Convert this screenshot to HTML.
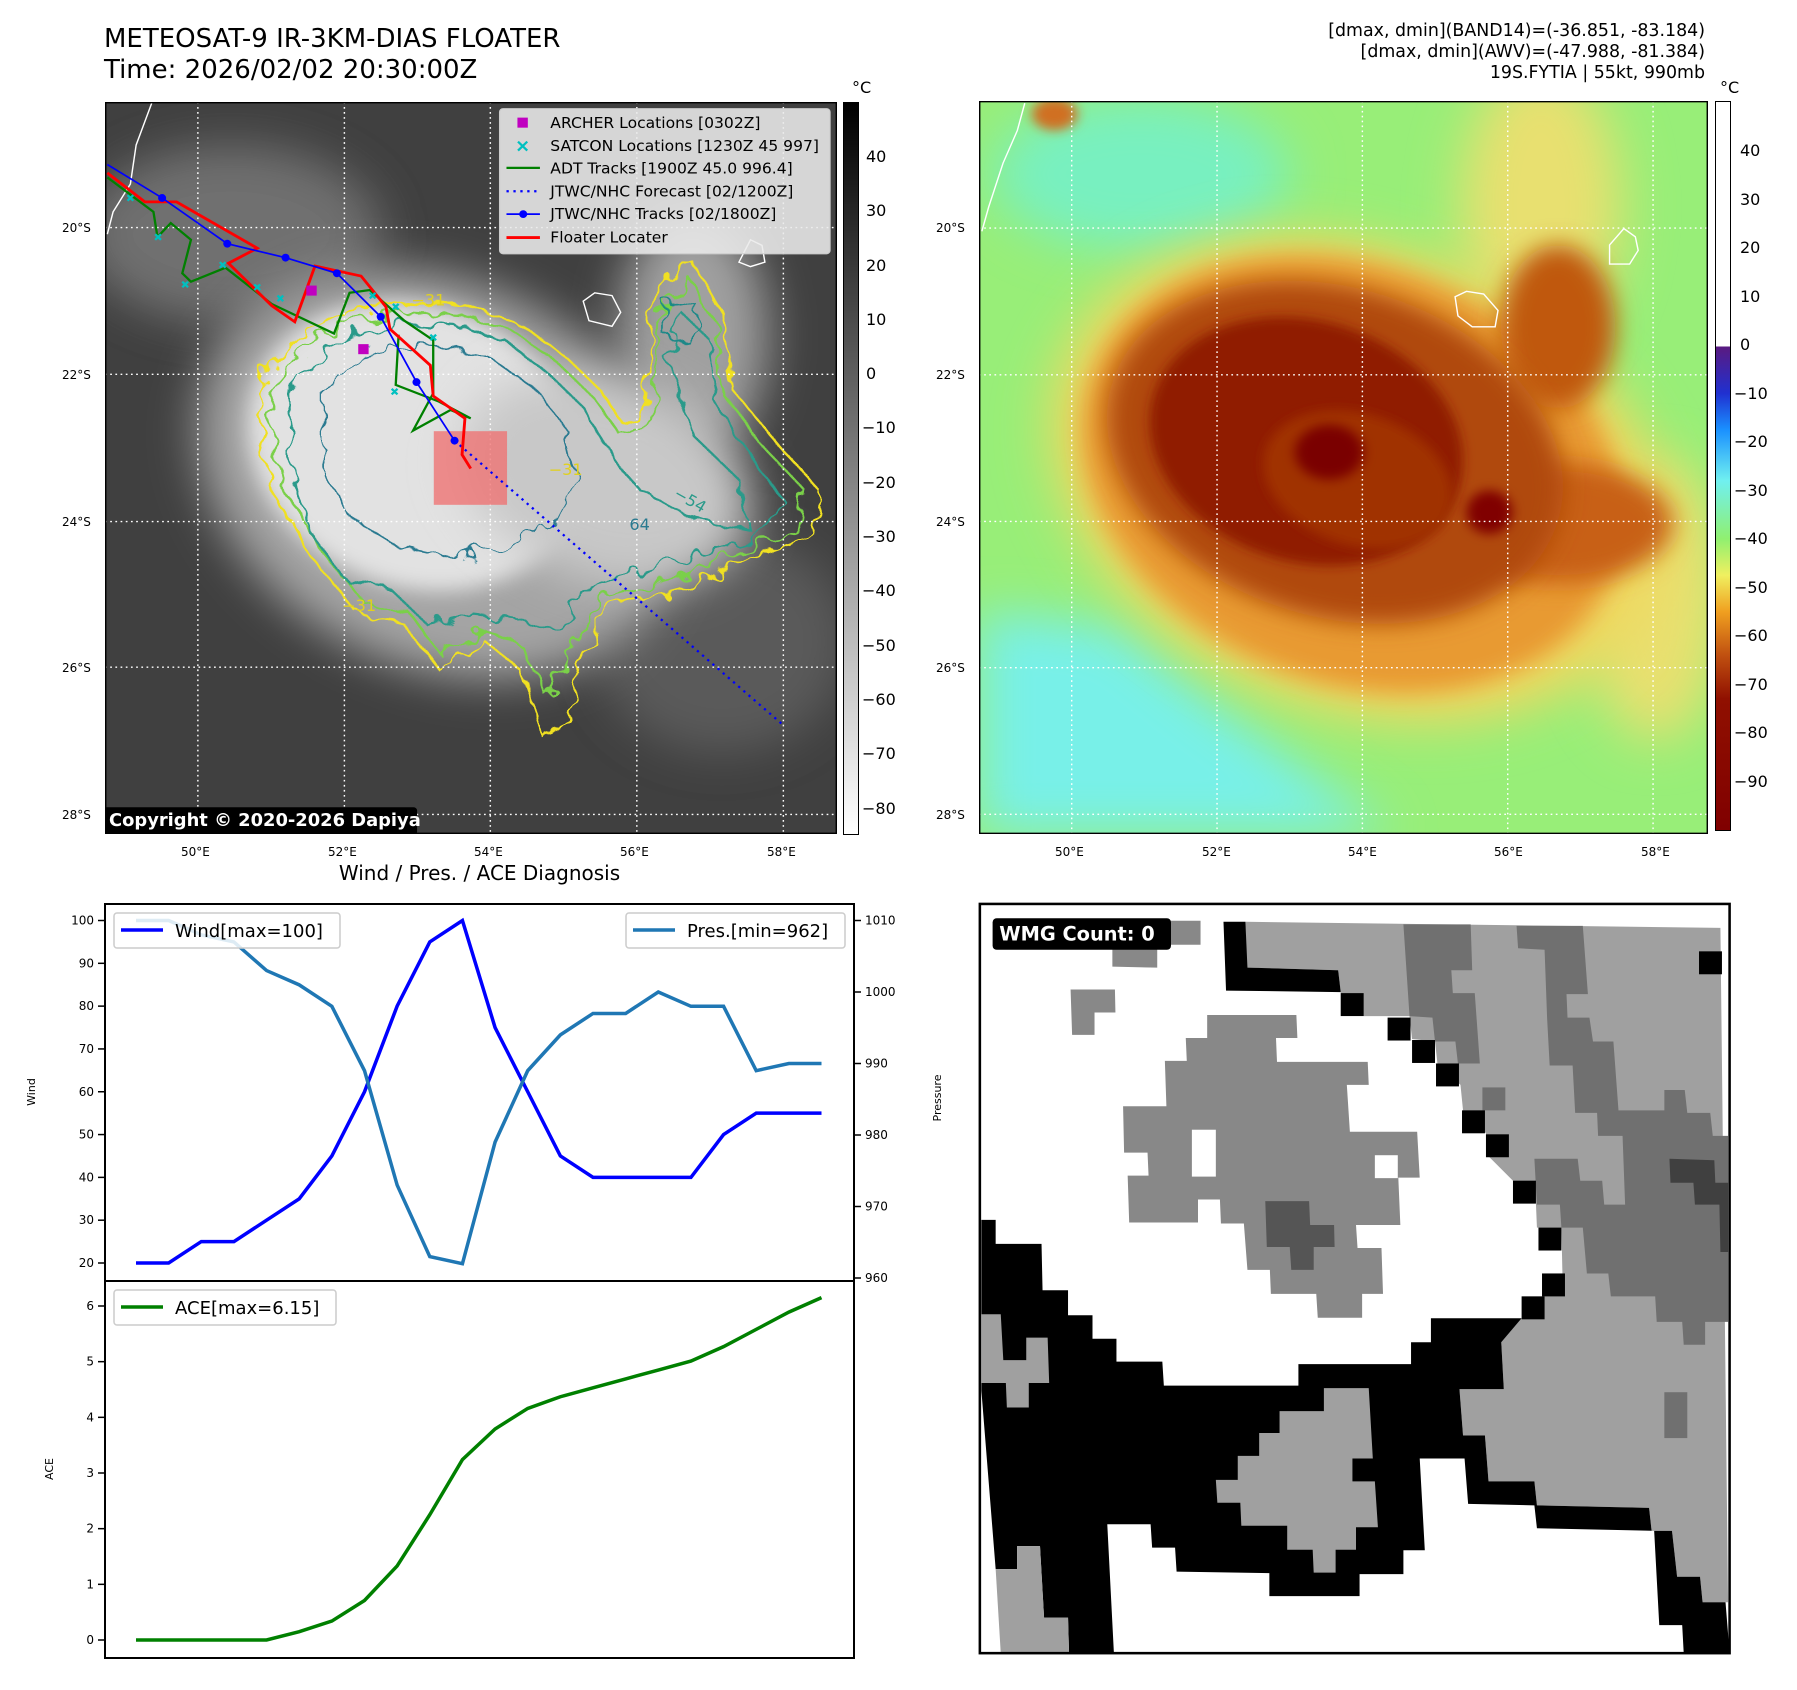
<!DOCTYPE html>
<html><head><meta charset="utf-8">
<style>
html,body{margin:0;padding:0;background:#fff;}
body{width:1797px;height:1690px;position:relative;overflow:hidden;font-family:"Liberation Sans","DejaVu Sans",sans-serif;}
.abs{position:absolute;}
svg text{font-family:"DejaVu Sans","Liberation Sans",sans-serif;}
</style></head>
<body>
<div class="abs" style="left:104px;top:24px;font-family:'DejaVu Sans',sans-serif;font-size:26px;line-height:31px;color:#000;">METEOSAT-9 IR-3KM-DIAS FLOATER<br>Time: 2026/02/02 20:30:00Z</div>
<div class="abs" style="right:92px;top:21px;text-align:right;font-family:'DejaVu Sans',sans-serif;font-size:17.4px;line-height:21px;color:#000;">[dmax, dmin](BAND14)=(-36.851, -83.184)<br>[dmax, dmin](AWV)=(-47.988, -81.384)<br>19S.FYTIA | 55kt, 990mb</div>

<!-- LEFT IR MAP -->
<svg class="abs" style="left:105px;top:102px" width="732" height="732" viewBox="181 183 1269 1312" preserveAspectRatio="none">
<defs>
<filter id="bl1" x="-50%" y="-50%" width="200%" height="200%"><feGaussianBlur stdDeviation="40"/></filter>
<filter id="bl2" x="-50%" y="-50%" width="200%" height="200%"><feGaussianBlur stdDeviation="18"/></filter>
<filter id="wob" x="-10%" y="-10%" width="120%" height="120%"><feTurbulence type="fractalNoise" baseFrequency="0.03" numOctaves="2" seed="3"/><feDisplacementMap in="SourceGraphic" scale="40"/></filter>
</defs>
<rect x="181" y="183" width="1269" height="1312" fill="#404040"/>
<ellipse cx="400" cy="420" rx="260" ry="160" fill="#707070" filter="url(#bl1)"/>
<ellipse cx="1250" cy="1150" rx="220" ry="200" fill="#5a5a5a" filter="url(#bl1)"/>
<ellipse cx="1200" cy="600" rx="130" ry="220" fill="#a0a0a0" filter="url(#bl1)"/>
<ellipse cx="760" cy="850" rx="440" ry="340" transform="rotate(30 760 850)" fill="#a4a4a4" filter="url(#bl1)"/>
<ellipse cx="720" cy="800" rx="300" ry="250" transform="rotate(25 720 800)" fill="#e2e2e2" filter="url(#bl2)"/>
<ellipse cx="1050" cy="860" rx="260" ry="180" transform="rotate(20 1050 860)" fill="#c8c8c8" filter="url(#bl1)"/>
<g fill="none" stroke-width="4" filter="url(#wob)">
<path stroke="#f0e020" d="M450,680 L520,600 L600,560 L700,540 L800,545 L900,580 L980,640 L1040,700 L1080,760 L1120,740 L1130,540 L1200,470 L1250,560 L1270,700 L1350,800 L1420,880 L1410,960 L1300,1000 L1200,1050 L1050,1090 L1000,1200 L980,1300 L940,1320 L900,1200 L840,1150 L760,1200 L700,1120 L620,1100 L540,1000 L470,880 L450,780 Z"/>
<path stroke="#7ad048" d="M470,690 L535,615 L610,575 L700,560 L800,565 L895,598 L970,655 L1030,715 L1075,780 L1135,760 L1140,560 L1195,500 L1240,580 L1255,710 L1330,810 L1395,880 L1385,945 L1290,985 L1190,1030 L1040,1070 L985,1170 L950,1250 L905,1160 L840,1130 L760,1170 L710,1100 L630,1080 L555,985 L490,875 L470,780 Z"/>
<path stroke="#2a9a8a" d="M500,700 L560,630 L630,595 L710,580 L800,585 L880,615 L950,670 L1010,730 L1060,820 L1110,880 L1200,930 L1300,950 L1280,860 L1200,780 L1160,650 L1180,560 L1230,610 L1240,720 L1300,820 L1360,900 L1300,970 L1150,1010 L1020,1050 L960,1130 L900,1110 L820,1100 L740,1120 L680,1060 L600,1040 L540,960 L505,860 Z"/>
<path stroke="#2a7a90" stroke-width="3" d="M560,700 L620,640 L700,620 L780,625 L860,650 L930,700 L980,770 L1000,860 L960,940 L880,980 L780,1000 L690,980 L610,930 L560,850 Z"/>
<path stroke="#1e8888" stroke-width="3" d="M1150,540 L1210,550 L1200,620 L1150,600 Z"/>
</g>
<g stroke="#fff" stroke-width="2.5" stroke-dasharray="3,6">
<line x1="342" y1="183" x2="342" y2="1495"/><line x1="596" y1="183" x2="596" y2="1495"/><line x1="849" y1="183" x2="849" y2="1495"/><line x1="1103" y1="183" x2="1103" y2="1495"/><line x1="1357" y1="183" x2="1357" y2="1495"/>
<line x1="181" y1="408" x2="1450" y2="408"/><line x1="181" y1="671" x2="1450" y2="671"/><line x1="181" y1="935" x2="1450" y2="935"/><line x1="181" y1="1196" x2="1450" y2="1196"/><line x1="181" y1="1460" x2="1450" y2="1460"/>
</g>
<path d="M262,185 L235,260 L225,330 L195,380 L185,420" fill="none" stroke="#fff" stroke-width="2.5"/>
<path d="M1010,540 L1030,525 L1060,530 L1075,560 L1060,585 L1020,575 Z" fill="none" stroke="#fff" stroke-width="2.5"/>
<path d="M1280,470 L1300,430 L1320,440 L1325,470 L1300,478 Z" fill="none" stroke="#fff" stroke-width="2.5"/>
<rect x="751" y="773" width="127" height="132" fill="rgba(240,110,110,0.75)"/>
<polyline points="787,790 1357,1300" fill="none" stroke="#0000ff" stroke-width="4" stroke-dasharray="4,8"/>
<polyline points="185,318 265,380 272,425 295,400 330,430 315,490 330,505 390,480 470,545 578,598 605,525 640,520 700,575 750,610 750,705 715,772 780,735 815,750 760,720 685,690 690,600" fill="none" stroke="#008000" stroke-width="4"/>
<polyline points="185,310 250,362 305,362 445,445 395,472 470,548 510,577 545,477 625,495 668,550 675,590 745,655 750,710 805,750 800,815 815,840" fill="none" stroke="#ff0000" stroke-width="5"/>
<polyline points="185,295 280,355 393,437 494,462 583,490 659,568 721,685 787,790" fill="none" stroke="#0000ff" stroke-width="3"/>
<g fill="#0000ff"><circle cx="280" cy="355" r="7"/><circle cx="393" cy="437" r="7"/><circle cx="494" cy="462" r="7"/><circle cx="583" cy="490" r="7"/><circle cx="659" cy="568" r="7"/><circle cx="721" cy="685" r="7"/><circle cx="787" cy="790" r="7"/></g>
<g stroke="#00c0c0" stroke-width="4" fill="none">
<path d="M268,420 l10,10 m0,-10 l-10,10 M315,505 l10,10 m0,-10 l-10,10 M380,470 l10,10 m0,-10 l-10,10 M440,510 l10,10 m0,-10 l-10,10 M480,530 l10,10 m0,-10 l-10,10 M640,525 l10,10 m0,-10 l-10,10 M680,545 l10,10 m0,-10 l-10,10 M745,600 l10,10 m0,-10 l-10,10 M678,697 l10,10 m0,-10 l-10,10 M220,350 l10,10 m0,-10 l-10,10"/>
</g>
<rect x="530" y="512" width="18" height="18" fill="#c000c0"/><rect x="620" y="617" width="18" height="18" fill="#c000c0"/>
<text x="712" y="548" font-size="28" fill="#e0d020">−31</text>
<text x="950" y="852" font-size="28" fill="#e0d020">−31</text>
<text x="592" y="1095" font-size="28" fill="#e0d020">−31</text>
<text x="1165" y="890" font-size="28" fill="#2a9a8a" transform="rotate(30 1165 890)">−54</text>
<text x="1090" y="950" font-size="28" fill="#2a7a90">64</text>
<g>
<rect x="865" y="195" width="573" height="260" rx="6" fill="rgba(235,235,235,0.88)" stroke="#ccc" stroke-width="2"/>
<rect x="896" y="211" width="18" height="18" fill="#c000c0"/>
<path d="M897,254 l16,16 m0,-16 l-16,16" stroke="#00c0c0" stroke-width="4"/>
<line x1="877" y1="301" x2="935" y2="301" stroke="#008000" stroke-width="4"/>
<line x1="877" y1="343" x2="935" y2="343" stroke="#0000ff" stroke-width="4" stroke-dasharray="4,8"/>
<line x1="877" y1="384" x2="935" y2="384" stroke="#0000ff" stroke-width="3"/><circle cx="906" cy="384" r="7" fill="#0000ff"/>
<line x1="877" y1="426" x2="935" y2="426" stroke="#ff0000" stroke-width="5"/>
<g font-size="27" fill="#000">
<text x="953" y="230">ARCHER Locations [0302Z]</text>
<text x="953" y="271">SATCON Locations [1230Z 45 997]</text>
<text x="953" y="311">ADT Tracks [1900Z 45.0 996.4]</text>
<text x="953" y="352">JTWC/NHC Forecast [02/1200Z]</text>
<text x="953" y="393">JTWC/NHC Tracks [02/1800Z]</text>
<text x="953" y="435">Floater Locater</text>
</g>
</g>
<rect x="178" y="1447" width="544" height="50" rx="6" fill="#000"/>
<text x="188" y="1481" font-size="31" font-weight="bold" fill="#fff">Copyright © 2020-2026 Dapiya</text>
<rect x="181" y="183" width="1269" height="1312" fill="none" stroke="#000" stroke-width="5"/>
</svg>

<div class="abs" style="left:0;top:0;font-family:'DejaVu Sans',sans-serif;font-size:12px;color:#000;">
<span class="abs" style="left:62px;top:221px">20°S</span><span class="abs" style="left:62px;top:368px">22°S</span><span class="abs" style="left:62px;top:515px">24°S</span><span class="abs" style="left:62px;top:661px">26°S</span><span class="abs" style="left:62px;top:808px">28°S</span>
<span class="abs" style="left:181px;top:845px">50°E</span><span class="abs" style="left:328px;top:845px">52°E</span><span class="abs" style="left:474px;top:845px">54°E</span><span class="abs" style="left:620px;top:845px">56°E</span><span class="abs" style="left:767px;top:845px">58°E</span>
<span class="abs" style="left:936px;top:221px">20°S</span><span class="abs" style="left:936px;top:368px">22°S</span><span class="abs" style="left:936px;top:515px">24°S</span><span class="abs" style="left:936px;top:661px">26°S</span><span class="abs" style="left:936px;top:808px">28°S</span>
<span class="abs" style="left:1055px;top:845px">50°E</span><span class="abs" style="left:1202px;top:845px">52°E</span><span class="abs" style="left:1348px;top:845px">54°E</span><span class="abs" style="left:1494px;top:845px">56°E</span><span class="abs" style="left:1641px;top:845px">58°E</span>
</div>

<div class="abs" style="left:843px;top:102px;width:14px;height:731px;border:1px solid #000;background:linear-gradient(#000,#fff);"></div>
<div class="abs" style="left:0;top:0;font-family:'DejaVu Sans',sans-serif;font-size:16px;color:#000;">
<span class="abs" style="left:852px;top:78px">°C</span>
<span class="abs" style="left:866px;top:147px">40</span><span class="abs" style="left:866px;top:201px">30</span><span class="abs" style="left:866px;top:256px">20</span><span class="abs" style="left:866px;top:310px">10</span><span class="abs" style="left:866px;top:364px">0</span><span class="abs" style="left:862px;top:418px">−10</span><span class="abs" style="left:862px;top:473px">−20</span><span class="abs" style="left:862px;top:527px">−30</span><span class="abs" style="left:862px;top:581px">−40</span><span class="abs" style="left:862px;top:636px">−50</span><span class="abs" style="left:862px;top:690px">−60</span><span class="abs" style="left:862px;top:744px">−70</span><span class="abs" style="left:862px;top:799px">−80</span>
</div>

<!-- RIGHT AWV MAP -->
<svg class="abs" style="left:979px;top:101px" width="729" height="733" viewBox="138 186 1274 1344" preserveAspectRatio="none">
<defs>
<filter id="rb1" x="-50%" y="-50%" width="200%" height="200%"><feGaussianBlur stdDeviation="45"/></filter>
<filter id="rb2" x="-50%" y="-50%" width="200%" height="200%"><feGaussianBlur stdDeviation="22"/></filter>
<filter id="rb3" x="-50%" y="-50%" width="200%" height="200%"><feGaussianBlur stdDeviation="10"/></filter>
</defs>
<rect x="138" y="186" width="1274" height="1344" fill="#98ee78"/>
<ellipse cx="420" cy="320" rx="260" ry="140" fill="#78f0c0" filter="url(#rb1)"/>
<path d="M138,1120 L380,1150 L560,1300 L860,1530 L138,1530 Z" fill="#78f0e8" filter="url(#rb1)"/>
<ellipse cx="1120" cy="380" rx="140" ry="260" fill="#e8e070" filter="url(#rb1)"/>
<ellipse cx="1320" cy="1100" rx="120" ry="260" fill="#e8e070" filter="url(#rb1)"/>
<ellipse cx="800" cy="880" rx="560" ry="420" transform="rotate(25 800 880)" fill="#f0d860" filter="url(#rb1)"/>
<ellipse cx="790" cy="870" rx="490" ry="380" transform="rotate(25 790 870)" fill="#e89a30" filter="url(#rb2)"/>
<ellipse cx="1150" cy="600" rx="100" ry="150" fill="#c05810" filter="url(#rb2)"/>
<ellipse cx="1150" cy="960" rx="200" ry="110" fill="#c86018" filter="url(#rb2)"/>
<ellipse cx="760" cy="830" rx="410" ry="300" transform="rotate(20 760 830)" fill="#b04808" filter="url(#rb2)"/>
<ellipse cx="710" cy="810" rx="280" ry="220" transform="rotate(20 710 810)" fill="#901c00" filter="url(#rb3)"/>
<ellipse cx="800" cy="880" rx="170" ry="120" transform="rotate(20 800 880)" fill="#a03000" filter="url(#rb3)"/>
<ellipse cx="750" cy="830" rx="60" ry="50" fill="#7a0000" filter="url(#rb3)"/>
<ellipse cx="1030" cy="940" rx="40" ry="40" fill="#800000" filter="url(#rb3)"/>
<ellipse cx="270" cy="210" rx="40" ry="30" fill="#d07020" filter="url(#rb3)"/>
<g stroke="#fff" stroke-width="2.5" stroke-dasharray="3,6">
<line x1="300" y1="186" x2="300" y2="1530"/><line x1="554" y1="186" x2="554" y2="1530"/><line x1="808" y1="186" x2="808" y2="1530"/><line x1="1062" y1="186" x2="1062" y2="1530"/><line x1="1316" y1="186" x2="1316" y2="1530"/>
<line x1="138" y1="419" x2="1412" y2="419"/><line x1="138" y1="688" x2="1412" y2="688"/><line x1="138" y1="957" x2="1412" y2="957"/><line x1="138" y1="1225" x2="1412" y2="1225"/><line x1="138" y1="1494" x2="1412" y2="1494"/>
</g>
<path d="M218,190 L205,240 L180,300 L155,380 L143,425" fill="none" stroke="#fff" stroke-width="2.5"/>
<path d="M970,545 L990,535 L1020,540 L1045,570 L1040,600 L1000,600 L975,580 Z" fill="none" stroke="#fff" stroke-width="2.5"/>
<path d="M1240,450 L1265,420 L1285,435 L1290,460 L1275,485 L1240,485 Z" fill="none" stroke="#fff" stroke-width="2.5"/>
<rect x="138" y="186" width="1274" height="1344" fill="none" stroke="#000" stroke-width="5"/>
</svg>

<div class="abs" style="left:1715px;top:101px;width:14px;height:728px;border:1px solid #000;background:linear-gradient(#fff 0%,#fff 33.6%,#5a1a80 33.6%,#2030d0 40%,#1a90ff 45%,#70f0f0 52%,#90f070 60%,#f0f060 65%,#f0a020 70%,#c05010 76%,#901000 82%,#800000 100%);"></div>
<div class="abs" style="left:0;top:0;font-family:'DejaVu Sans',sans-serif;font-size:16px;color:#000;">
<span class="abs" style="left:1720px;top:78px">°C</span>
<span class="abs" style="left:1740px;top:141px">40</span><span class="abs" style="left:1740px;top:190px">30</span><span class="abs" style="left:1740px;top:238px">20</span><span class="abs" style="left:1740px;top:287px">10</span><span class="abs" style="left:1740px;top:335px">0</span><span class="abs" style="left:1734px;top:384px">−10</span><span class="abs" style="left:1734px;top:432px">−20</span><span class="abs" style="left:1734px;top:481px">−30</span><span class="abs" style="left:1734px;top:529px">−40</span><span class="abs" style="left:1734px;top:578px">−50</span><span class="abs" style="left:1734px;top:626px">−60</span><span class="abs" style="left:1734px;top:675px">−70</span><span class="abs" style="left:1734px;top:723px">−80</span><span class="abs" style="left:1734px;top:772px">−90</span>
</div>

<!-- BOTTOM RIGHT WMG -->
<svg class="abs" style="left:961px;top:881px" width="790" height="790" viewBox="0 0 1550 1550" preserveAspectRatio="none">
<rect x="37" y="45" width="1471" height="1470" fill="#fff"/>
<path fill="#a0a0a0" d="M558,80 L1490,92 L1505,1415 L1455,1415 L1450,1365 L1405,1365 L1395,1275 L1355,1275 L1350,1230 L1130,1225 L1125,1178 L1035,1178 L1028,1088 L985,1088 L978,997 L1065,997 L1060,905 L1100,858 L1100,815 L1140,815 L1140,770 L1180,770 L1178,680 L1130,680 L1128,632 L1083,632 L1083,588 L1035,540 L1030,495 L985,450 L980,400 L935,360 L930,315 L885,310 L880,265 L790,265 L745,220 L740,175 L560,170 Z"/>
<path fill="#707070" d="M868,85 L1000,85 L1003,175 L962,175 L965,220 L1008,220 L1018,358 L975,358 L970,315 L930,315 L925,268 L880,265 Z"/>
<path fill="#707070" d="M1090,88 L1220,88 L1230,222 L1188,222 L1190,268 L1233,268 L1240,315 L1280,315 L1290,450 L1380,450 L1380,410 L1420,410 L1425,455 L1470,455 L1475,500 L1505,500 L1505,865 L1460,865 L1460,910 L1418,910 L1415,865 L1365,865 L1362,815 L1275,815 L1270,770 L1228,770 L1220,680 L1178,680 L1175,635 L1130,635 L1125,545 L1210,545 L1215,588 L1258,588 L1262,635 L1303,635 L1298,500 L1250,500 L1248,455 L1205,455 L1200,362 L1155,362 L1150,270 L1145,135 L1093,132 Z"/>
<rect x="1380" y="1003" width="45" height="90" fill="#707070"/><rect x="1023" y="405" width="45" height="45" fill="#707070"/>
<path fill="#404040" d="M1390,545 L1478,548 L1480,592 L1505,592 L1505,728 L1490,728 L1488,635 L1440,635 L1437,592 L1392,592 Z"/>
<path fill="#000" d="M515,80 L558,80 L562,170 L740,175 L745,218 L520,215 Z"/>
<g fill="#000"><rect x="745" y="220" width="45" height="45"/><rect x="837" y="268" width="45" height="45"/><rect x="885" y="312" width="45" height="45"/><rect x="932" y="358" width="45" height="45"/><rect x="983" y="450" width="45" height="45"/><rect x="1030" y="497" width="45" height="45"/><rect x="1083" y="588" width="45" height="45"/><rect x="1133" y="680" width="45" height="45"/><rect x="1140" y="770" width="45" height="45"/><rect x="1100" y="815" width="45" height="45"/><rect x="1448" y="138" width="45" height="45"/></g>
<path fill="#000" d="M40,665 L68,665 L68,712 L158,712 L160,803 L210,803 L210,852 L258,852 L258,898 L305,898 L305,943 L395,943 L398,990 L662,990 L662,948 L883,948 L883,905 L922,905 L922,858 L1100,858 L1060,905 L1065,997 L978,997 L985,1088 L1028,1088 L1035,1178 L1125,1178 L1130,1225 L1350,1230 L1355,1275 L1395,1275 L1405,1365 L1450,1365 L1455,1415 L1500,1415 L1508,1515 L1418,1515 L1415,1460 L1370,1460 L1360,1275 L1130,1270 L1125,1225 L995,1222 L988,1133 L900,1133 L910,1313 L868,1313 L868,1360 L782,1360 L782,1403 L605,1403 L605,1358 L423,1355 L420,1308 L375,1308 L372,1262 L287,1262 L300,1515 L212,1515 L210,1445 L163,1445 L155,1305 L110,1305 L110,1350 L68,1350 L40,1000 Z"/>
<path fill="#a0a0a0" d="M40,850 L78,850 L83,940 L128,940 L128,896 L170,896 L173,985 L133,985 L133,1033 L90,1033 L88,985 L40,985 Z"/>
<path fill="#a0a0a0" d="M110,1305 L155,1305 L163,1445 L210,1445 L212,1515 L78,1515 L68,1350 L110,1350 Z"/>
<path fill="#a0a0a0" d="M712,995 L800,995 L808,1133 L768,1133 L768,1178 L812,1178 L818,1268 L775,1268 L775,1312 L735,1312 L735,1357 L692,1357 L690,1312 L640,1312 L640,1265 L550,1265 L548,1220 L503,1220 L500,1175 L543,1175 L543,1128 L585,1128 L585,1083 L625,1083 L625,1040 L712,1040 Z"/>
<path fill="#888" d="M483,263 L658,263 L660,308 L618,308 L620,355 L798,355 L800,400 L757,400 L763,492 L895,492 L900,582 L858,582 L862,675 L775,675 L778,720 L825,720 L828,810 L787,810 L787,857 L700,857 L697,810 L608,810 L606,763 L562,763 L555,672 L510,672 L508,625 L465,625 L465,670 L330,670 L327,578 L368,578 L366,533 L320,533 L318,442 L403,442 L400,353 L443,353 L441,308 L483,308 Z"/>
<rect x="453" y="488" width="47" height="92" fill="#fff"/><rect x="812" y="538" width="45" height="45" fill="#fff"/>
<path fill="#555" d="M597,628 L683,628 L685,675 L732,675 L733,718 L692,718 L692,763 L648,763 L645,718 L600,718 Z"/>
<path fill="#888" d="M215,213 L302,213 L303,258 L262,258 L262,302 L218,302 Z"/>
<path fill="#888" d="M297,78 L470,78 L470,125 L385,125 L385,170 L297,168 Z"/>
<rect x="62" y="73" width="350" height="62" rx="8" fill="#000"/>
<text x="75" y="117" font-size="38" font-weight="bold" fill="#fff">WMG Count: 0</text>
<rect x="37" y="45" width="1471" height="1470" fill="none" stroke="#000" stroke-width="5"/>
</svg>

<!-- BOTTOM LEFT CHART -->
<div class="abs" style="left:105px;width:749px;top:861px;text-align:center;font-family:'DejaVu Sans',sans-serif;font-size:20px;color:#000;">Wind / Pres. / ACE Diagnosis</div>
<svg id="chart" class="abs" style="left:0;top:880px" width="960" height="810" viewBox="0 880 960 810"></svg>
<script>
const windVals=[20,20,25,25,30,35,45,60,80,95,100,75,60,45,40,40,40,40,50,55,55,55];
const presVals=[1010,1010,1008,1007,1003,1001,998,989,973,963,962,979,989,994,997,997,1000,998,998,989,990,990];
const aceVals=[0,0,0,0,0,0.15,0.34,0.71,1.33,2.25,3.24,3.79,4.16,4.37,4.53,4.69,4.85,5.01,5.27,5.58,5.89,6.15];
const windTicks=[20,30,40,50,60,70,80,90,100];
const presTicks=[960,970,980,990,1000,1010];
const aceTicks=[0,1,2,3,4,5,6];
const NS='http://www.w3.org/2000/svg';
const svg=document.getElementById('chart');
function mk(tag,attrs,parent){const e=document.createElementNS(NS,tag);for(const k in attrs)e.setAttribute(k,attrs[k]);(parent||svg).appendChild(e);return e;}
const L=105,R=854,T=904,M=1281,B=1658;
const xs=i=>136+i*(821.5-136)/(windVals.length-1);
const yW=v=>1263-(v-20)*(1263-920.5)/80;
const yP=v=>1278-(v-960)*(1278-920.5)/50;
const yA=v=>1640-v*(1640-1306)/6;
function line(vals,xf,yf,color,w,name){
  const p=mk('polyline',{points:vals.map((v,i)=>xf(i)+','+yf(v)).join(' '),fill:'none',stroke:color,'stroke-width':w,'stroke-linejoin':'miter'});
  
  
}
function tickL(v,y){mk('line',{x1:L-7,y1:y,x2:L,y2:y,stroke:'#000','stroke-width':1.5});const t=mk('text',{x:L-11,y:y+4,'text-anchor':'end','font-size':12});t.textContent=v;}
windTicks.forEach(v=>tickL(v,yW(v)));
aceTicks.forEach(v=>tickL(v,yA(v)));
presTicks.forEach(v=>{const y=yP(v);mk('line',{x1:R,y1:y,x2:R+7,y2:y,stroke:'#000','stroke-width':1.5});const t=mk('text',{x:R+11,y:y+4,'font-size':12});t.textContent=v;});
line(windVals,xs,yW,'#0000ff',3.5,'wind-line');
line(presVals,xs,yP,'#1f77b4',3.5,'pressure-line');
line(aceVals,xs,yA,'#008000',3.5,'ace-line');
mk('rect',{x:L,y:T,width:R-L,height:B-T,fill:'none',stroke:'#000','stroke-width':2});
mk('line',{x1:L,y1:M,x2:R,y2:M,stroke:'#000','stroke-width':2});
let t;
t=mk('text',{x:35,y:1092,'font-size':11,'text-anchor':'middle',transform:'rotate(-90 35 1092)'});t.textContent='Wind';
t=mk('text',{x:941,y:1098,'font-size':11,'text-anchor':'middle',transform:'rotate(-90 941 1098)'});t.textContent='Pressure';
t=mk('text',{x:53,y:1469,'font-size':11,'text-anchor':'middle',transform:'rotate(-90 53 1469)'});t.textContent='ACE';
function legend(x,y,w,color,label,name){
  const g=mk('g',{});
  
  
  mk('rect',{x:x,y:y,width:w,height:35,rx:3,fill:'rgba(255,255,255,0.85)',stroke:'#ccc','stroke-width':1.5},g);
  mk('line',{x1:x+7,y1:y+17,x2:x+49,y2:y+17,stroke:color,'stroke-width':3.5},g);
  const tt=mk('text',{x:x+61,y:y+24,'font-size':18},g);tt.textContent=label;
}
legend(114,913,226,'#0000ff','Wind[max=100]','wind-legend');
legend(626,913,219,'#1f77b4','Pres.[min=962]','pressure-legend');
legend(114,1290,222,'#008000','ACE[max=6.15]','ace-legend');
</script>
</body></html>
